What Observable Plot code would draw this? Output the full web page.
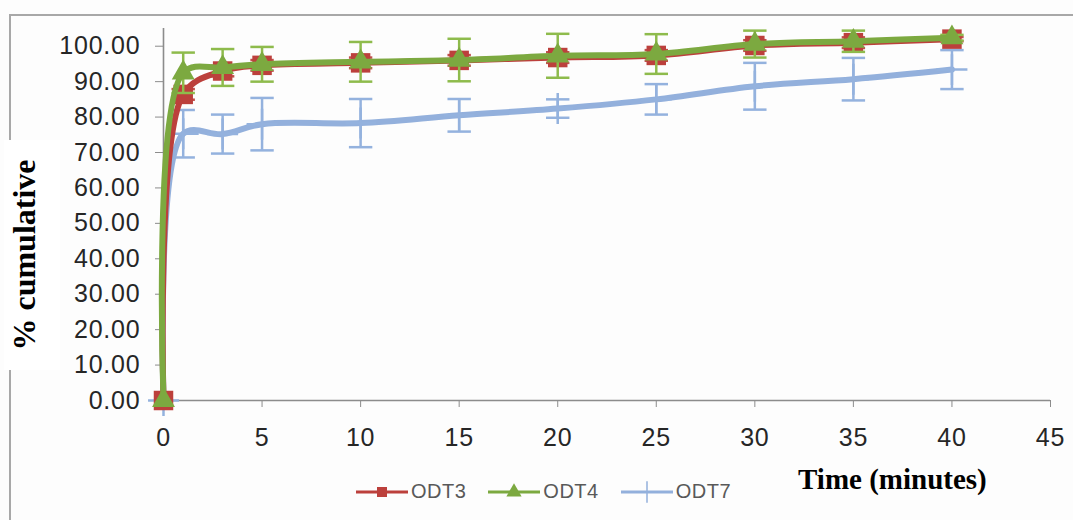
<!DOCTYPE html>
<html>
<head>
<meta charset="utf-8">
<script src="https://cdn.jsdelivr.net/npm/d3@7"></script>
<script src="https://cdn.jsdelivr.net/npm/@observablehq/plot@0.6"></script>
<style>
  body { margin: 0; background: #fff; }
  #wrap { position: relative; width: 1073px; height: 520px; overflow: hidden; background: #fdfdfd;
          font-family: "Liberation Sans", Arial, sans-serif; }
  #chart { position: absolute; left: 0; top: 0; }
  #chart svg text { letter-spacing: 0.8px; }
  #frame { position: absolute; left: 9px; top: 14px; width: 1100px; height: 560px;
           border-top: 2px solid #a8a8a8; border-left: 2px solid #a8a8a8; }
  #ylab { position: absolute; left: 4px; top: 140px; width: 56px; height: 230px; background: #fff; }
  #ylab span { position: absolute; left: 50%; top: 50%; transform: translate(-54%, -50%) rotate(-90deg);
               font: bold 32px "Liberation Serif", "Times New Roman", serif; white-space: nowrap; color: #000; }
  #xlab { position: absolute; left: 798px; top: 463px; font: bold 29px "Liberation Serif", "Times New Roman", serif;
          color: #000; white-space: nowrap; }
  #legend { position: absolute; left: 356px; top: 480px; display: flex; align-items: center;
            font-size: 20px; color: #595959; white-space: nowrap; letter-spacing: 0.5px; }
  #legend .item { display: flex; align-items: center; margin-right: 22px; }
  #legend svg { margin-right: 3px; }
</style>
</head>
<body>
<div id="wrap">
  <div id="chart"></div>
  <div id="frame"></div>
  <div id="ylab"><span>% cumulative</span></div>
  <div id="xlab">Time (minutes)</div>
  <div id="legend"></div>
</div>
<script>
// ---- data ----
const times = [0, 1, 3, 5, 10, 15, 20, 25, 30, 35, 40];
const odt3   = [0, 86.4, 93.0, 94.6, 95.3, 96.0, 96.8, 97.4, 100.2, 101.0, 102.0];
const odt3Sd = [0, 1.5, 1.5, 1.5, 1.5, 1.5, 1.5, 1.5, 1.5, 1.5, 0.6];
const odt4   = [0, 92.5, 94.0, 94.9, 95.6, 96.1, 97.3, 97.8, 100.6, 101.4, 102.4];
const odt4Sd = [0, 5.7, 5.2, 4.9, 5.6, 6.0, 6.2, 5.6, 3.8, 3.0, 0.8];
const odt7   = [0, 75.3, 75.2, 78.0, 78.3, 80.5, 82.4, 85.0, 88.7, 90.7, 93.4];
const odt7Sd = [0, 6.7, 5.5, 7.4, 6.8, 4.6, 2.6, 4.3, 6.6, 6.0, 5.5];

const seriesNames = ["ODT3", "ODT4", "ODT7"];
const seriesValues = [odt3, odt4, odt7];
const seriesSd = [odt3Sd, odt4Sd, odt7Sd];
const lineColors = ["#BC403C", "#7CA940", "#93B0DC"];
const errColors = ["#C0504D", "#8EBB4C", "#94B2DE"];
const symbols = ["square", "triangle", "plus"];
const drawOrder = ["ODT7", "ODT3", "ODT4"];

const xTicks = [0, 5, 10, 15, 20, 25, 30, 35, 40, 45];
const yTicks = [0, 10, 20, 30, 40, 50, 60, 70, 80, 90, 100];

// ---- build rows ----
const rows = [];
seriesNames.forEach((s, i) => {
  times.forEach((t, j) => rows.push({series: s, t, v: seriesValues[i][j], sd: seriesSd[i][j]}));
});

const capSymbol = {
  draw(ctx, size) {
    const w = Math.sqrt(size) * 0.55;
    ctx.moveTo(-w, 0); ctx.lineTo(w, 0);
  }
};

const marks = [
  Plot.ruleY([0], {stroke: "#8c8c8c", strokeWidth: 1.6}),
  Plot.ruleX([0], {stroke: "#8c8c8c", strokeWidth: 1.6}),
  Plot.axisY({ticks: yTicks, tickFormat: d => d.toFixed(2), tickSize: 8, tickPadding: 15,
              stroke: "#8c8c8c", fill: "#262626", label: null, fontSize: 25}),
  Plot.axisX({ticks: xTicks, tickSize: 7, tickPadding: 21,
              stroke: "#8c8c8c", fill: "#262626", label: null, fontSize: 25})
];

drawOrder.forEach(name => {
  const i = seriesNames.indexOf(name);
  const data = rows.filter(d => d.series === name);
  const err = data.filter(d => d.sd > 0);
  marks.push(
    Plot.ruleX(err, {x: "t", y1: d => d.v - d.sd, y2: d => d.v + d.sd, stroke: errColors[i], strokeWidth: 2.5}),
    Plot.dot(err, {x: "t", y: d => d.v + d.sd, symbol: capSymbol, r: 12, stroke: errColors[i], strokeWidth: 2.5}),
    Plot.dot(err, {x: "t", y: d => d.v - d.sd, symbol: capSymbol, r: 12, stroke: errColors[i], strokeWidth: 2.5}),
    Plot.line(data, {x: "t", y: "v", stroke: lineColors[i], strokeWidth: 6, curve: "catmull-rom"})
  );
  if (symbols[i] === "plus") {
    marks.push(Plot.dot(data, {x: "t", y: "v", symbol: "plus", r: 10, stroke: errColors[i], strokeWidth: 2.5}));
  } else {
    marks.push(Plot.dot(data, {x: "t", y: "v", symbol: symbols[i], r: symbols[i] === "square" ? 11 : 8.5,
                               fill: lineColors[i], stroke: "none"}));
  }
});

const chart = Plot.plot({
  width: 1073,
  height: 520,
  marginLeft: 163,
  marginRight: 23,
  marginTop: 28,
  marginBottom: 120,
  style: {background: "transparent", fontFamily: "'Liberation Sans', Arial, sans-serif", fontSize: "25px", overflow: "visible"},
  x: {domain: [0, 45], axis: null},
  y: {domain: [0, 105], axis: null},
  marks
});
document.getElementById("chart").appendChild(chart);

// ---- legend ----
const legend = d3.select("#legend");
seriesNames.forEach((s, i) => {
  const item = legend.append("div").attr("class", "item");
  const sv = item.append("svg").attr("width", 52).attr("height", 22);
  sv.append("line").attr("x1", 0).attr("x2", 52).attr("y1", 11).attr("y2", 11)
    .attr("stroke", lineColors[i]).attr("stroke-width", 3);
  const sym = d3.symbol().type(symbols[i] === "square" ? d3.symbolSquare : symbols[i] === "triangle" ? d3.symbolTriangle : d3.symbolPlus)
    .size(symbols[i] === "plus" ? 150 : 100);
  const p = sv.append("path").attr("d", sym()).attr("transform", "translate(26,11)");
  if (symbols[i] === "plus") p.attr("fill", "none").attr("stroke", lineColors[i]).attr("stroke-width", 1.5);
  else p.attr("fill", lineColors[i]);
  item.append("span").text(s);
});
</script>
</body>
</html>
